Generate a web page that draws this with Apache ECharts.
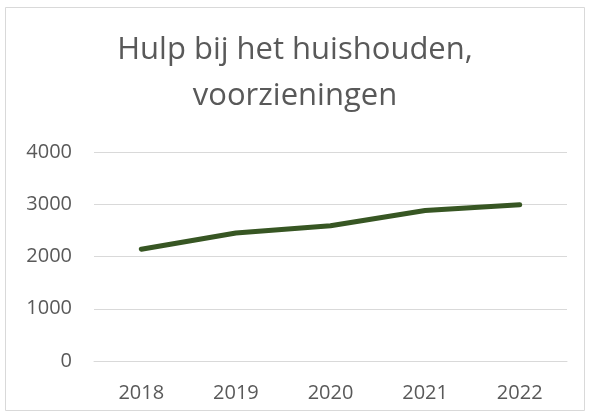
<!DOCTYPE html>
<html>
<head>
<meta charset="utf-8">
<script src="https://cdn.jsdelivr.net/npm/echarts@6/dist/echarts.min.js"></script>
<style>
html, body { margin: 0; padding: 0; background: #fff; }
#main { width: 590px; height: 417px; }
</style>
</head>
<body>
<div id="main"></div>
<script>
var jaren = ['2018', '2019', '2020', '2021', '2022'];
var voorzieningen = [2140, 2450, 2590, 2880, 2990];
var titel = 'Hulp bij het huishouden,\nvoorzieningen';

var myChart = echarts.init(document.getElementById('main'));

myChart.setOption({
    backgroundColor: '#fff',
    animation: false,
    graphic: [{
        type: 'rect',
        shape: { x: 5.5, y: 7.5, width: 579, height: 403 },
        style: { fill: 'none', stroke: '#d9d9d9', lineWidth: 1 },
        silent: true
    }],
    title: {
        text: titel,
        left: 'center',
        top: 22,
        textStyle: {
            fontFamily: 'Open Sans',
            fontWeight: 'normal',
            fontSize: 31,
            lineHeight: 46,
            color: '#595959'
        }
    },
    grid: {
        left: 94,
        right: 23,
        top: 152,
        bottom: 56,
        containLabel: false
    },
    xAxis: {
        type: 'category',
        data: jaren,
        boundaryGap: true,
        axisLine: { show: true, lineStyle: { color: '#d9d9d9' } },
        axisTick: { show: false },
        axisLabel: {
            margin: 22,
            fontFamily: 'Open Sans',
            fontSize: 20,
            color: '#595959'
        }
    },
    yAxis: {
        type: 'value',
        min: 0,
        max: 4000,
        interval: 1000,
        axisLine: { show: false },
        axisTick: { show: false },
        splitLine: { lineStyle: { color: '#d9d9d9', width: 1 } },
        axisLabel: {
            margin: 22,
            fontFamily: 'Open Sans',
            fontSize: 20,
            color: '#595959',
            formatter: function (v) { return String(v); }
        }
    },
    series: [{
        name: 'voorzieningen',
        type: 'line',
        data: voorzieningen,
        symbol: 'none',
        lineStyle: { color: '#375623', width: 5, cap: 'round', join: 'round' }
    }]
});
</script>
</body>
</html>
